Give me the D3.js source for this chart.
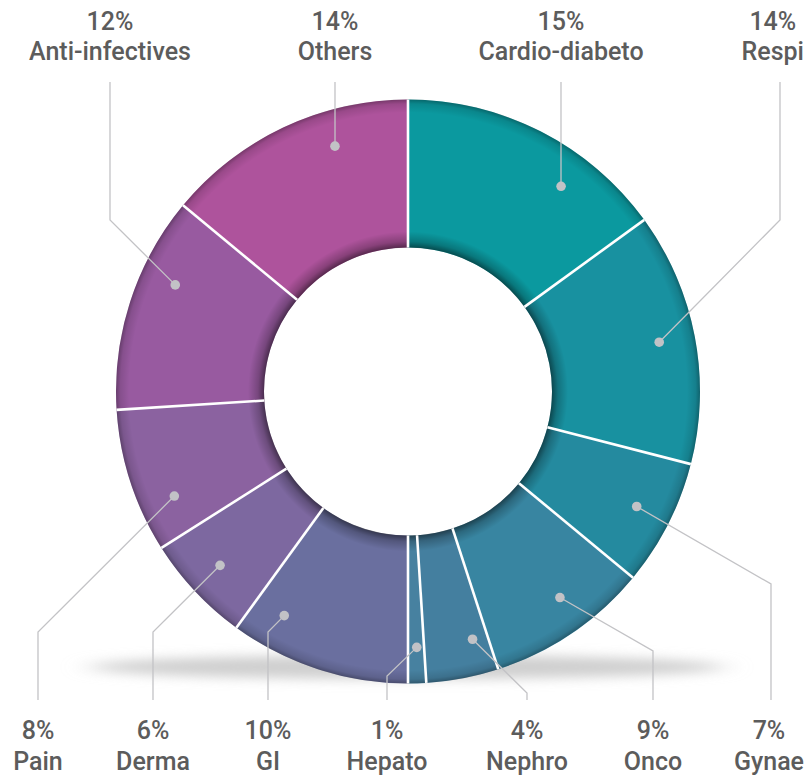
<!DOCTYPE html>
<html>
<head>
<meta charset="utf-8">
<script src="https://cdn.jsdelivr.net/npm/d3@7/dist/d3.min.js"></script>
<style>
  html, body { margin: 0; padding: 0; background: #ffffff; overflow: hidden; }
  svg { display: block; }
  text { font-family: Roboto, "Noto Sans", sans-serif; fill: #5c5c5c; }
</style>
</head>
<body>
<svg id="chart" width="806" height="775"></svg>
<script>
// Therapy-area split, clockwise from 12 o'clock
const categories = ["Cardio-diabeto", "Respi", "Gynae", "Onco", "Nephro", "Hepato", "GI", "Derma", "Pain", "Anti-infectives", "Others"];
const shares = [15, 14, 7, 9, 4, 1, 10, 6, 8, 12, 14];
const sliceColors = ["#0b999f", "#1891a0", "#248a9f", "#3885a1", "#447f9f", "#4781a0", "#6a6f9f", "#7d68a0", "#8b62a0", "#985aa0", "#ae539c"];

// Callout layout: label column x, elbow y (null = straight line), label row, where the dot sits along the slice
const labelX = [561, 780, 771, 653, 527, 387, 268, 153, 38, 110, 335];
const elbowY = [null, 220, 584, 651, 693, 676, 632, 632, 632, 220, null];
const labelRow = ["top", "top", "bottom", "bottom", "bottom", "bottom", "bottom", "bottom", "bottom", "top", "top"];
const dotFrac = [0.68, 0.494, 0.488, 0.432, 0.236, 0.456, 0.803, 0.52, 0.288, 0.653, 0.671];

const W = 806;
const svg = d3.select("#chart");
const cx = 408, cy = 391.5;
const outerR = 292, innerR = 144, dotR = 256;

const defs = svg.append("defs");

// soft floor shadow
const blur = defs.append("filter").attr("id", "floorBlur")
  .attr("x", "-20%").attr("y", "-300%").attr("width", "140%").attr("height", "700%");
blur.append("feGaussianBlur").attr("stdDeviation", "14 6");

// ring shading: inner drop shadow and darker outer rim
const shade = defs.append("radialGradient").attr("id", "ringShade")
  .attr("gradientUnits", "userSpaceOnUse")
  .attr("cx", 0).attr("cy", 0).attr("r", outerR);
[[0, 0], [innerR / outerR, 0.5], [(innerR + 6) / outerR, 0.22], [(innerR + 16) / outerR, 0],
 [0.955, 0], [0.985, 0.12], [1, 0.32]].forEach(([o, a]) => {
  shade.append("stop").attr("offset", o).attr("stop-color", "#000").attr("stop-opacity", a);
});

svg.append("ellipse")
  .attr("cx", 407).attr("cy", 667).attr("rx", 318).attr("ry", 12)
  .attr("fill", "#cfcfcf").attr("filter", "url(#floorBlur)");

const pie = d3.pie().sort(null).value(d => d).startAngle(0).endAngle(2 * Math.PI);
const arcs = pie(shares);
const arc = d3.arc().innerRadius(innerR).outerRadius(outerR);

const g = svg.append("g").attr("transform", `translate(${cx},${cy})`);

g.selectAll("path.slice").data(arcs).join("path")
  .attr("class", "slice")
  .attr("d", arc)
  .attr("fill", (d, i) => sliceColors[i]);

g.append("path")
  .attr("d", d3.arc().innerRadius(innerR).outerRadius(outerR).startAngle(0).endAngle(2 * Math.PI)())
  .attr("fill", "url(#ringShade)");

// white separators between slices
g.selectAll("line.sep").data(arcs).join("line")
  .attr("class", "sep")
  .attr("x1", d => innerR * Math.sin(d.startAngle))
  .attr("y1", d => -innerR * Math.cos(d.startAngle))
  .attr("x2", d => outerR * Math.sin(d.startAngle))
  .attr("y2", d => -outerR * Math.cos(d.startAngle))
  .attr("stroke", "#ffffff").attr("stroke-width", 2.6);

// callouts
const topEnd = 82, bottomEnd = 700;
const callouts = arcs.map((d, i) => {
  const a = d.startAngle + (d.endAngle - d.startAngle) * dotFrac[i];
  const dx = cx + dotR * Math.sin(a), dy = cy - dotR * Math.cos(a);
  const ey = elbowY[i] === null ? dy : elbowY[i];
  const end = labelRow[i] === "top" ? topEnd : bottomEnd;
  return { i, dot: [dx, dy], pts: [[dx, dy], [labelX[i], ey], [labelX[i], end]] };
});

svg.selectAll("path.leader").data(callouts).join("path")
  .attr("class", "leader")
  .attr("d", c => d3.line()(c.pts))
  .attr("fill", "none").attr("stroke", "#c3c3c6").attr("stroke-width", 1.3);

svg.selectAll("circle.dot").data(callouts).join("circle")
  .attr("class", "dot")
  .attr("cx", c => c.dot[0]).attr("cy", c => c.dot[1]).attr("r", 4.8)
  .attr("fill", "#c2c2c6");

const labels = svg.selectAll("g.lbl").data(categories).join("g").attr("class", "lbl");
const pctText = labels.append("text")
  .attr("x", (d, i) => labelX[i])
  .attr("y", (d, i) => labelRow[i] === "top" ? 30 : 739)
  .attr("text-anchor", "middle")
  .attr("font-size", 25).attr("font-weight", 500)
  .text((d, i) => shares[i] + "%");
const nameText = labels.append("text")
  .attr("x", (d, i) => labelX[i])
  .attr("y", (d, i) => labelRow[i] === "top" ? 60 : 770)
  .attr("text-anchor", "middle")
  .attr("font-size", 25).attr("font-weight", 500)
  .text(d => d);

// keep edge labels inside the canvas
labels.each(function (d, i) {
  const texts = d3.select(this).selectAll("text");
  let maxW = 0;
  texts.each(function () { maxW = Math.max(maxW, this.getComputedTextLength()); });
  const x = Math.min(labelX[i], W - 2 - maxW / 2);
  texts.attr("x", x);
});
</script>
</body>
</html>
